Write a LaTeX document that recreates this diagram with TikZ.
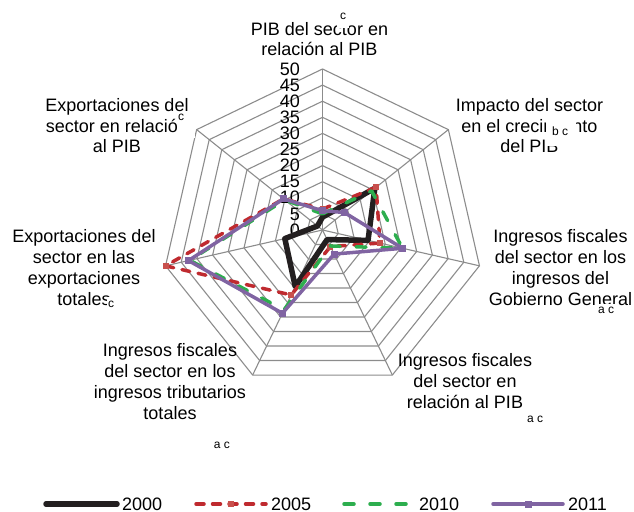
\documentclass[tikz,border=0pt]{standalone}
\usepackage{fontspec}
\setmainfont{Liberation Sans}
\definecolor{gridgray}{HTML}{8C8C8C}
\definecolor{blk}{HTML}{231F20}
\definecolor{redA}{HTML}{BF2A2F}
\definecolor{redM}{HTML}{C8504D}
\definecolor{grnA}{HTML}{2DAE4E}
\definecolor{purA}{HTML}{8064A2}
\newcommand{\lbfont}{\fontsize{18bp}{20.8bp}\selectfont}
\newcommand{\ftfont}{\fontsize{12bp}{14bp}\selectfont}
\def\cx{322.5}
\def\cy{230}
\def\uu{3.22}
\begin{document}
\begin{tikzpicture}[x=1bp,y=-1bp,
  grid/.style={draw=gridgray, line width=1.1bp},
  lab/.style={align=center, font=\lbfont, inner sep=0pt, anchor=base},
  tick/.style={font=\lbfont, inner sep=0pt, anchor=east},
  foot/.style={font=\ftfont, inner sep=0pt},
  s2000/.style={draw=blk, line width=5.5bp, line join=round},
  s2005/.style={draw=redA, line width=3.5bp, dash pattern=on 8bp off 8.5bp, line cap=round, line join=round},
  s2010/.style={draw=grnA, line width=3.5bp, dash pattern=on 10bp off 16bp, line cap=round, line join=round},
  s2011/.style={draw=purA, line width=3.5bp, line join=round},
  m2005/.style={rectangle, fill=redM, minimum size=6bp, inner sep=0pt},
  m2011/.style={rectangle, fill=purA, minimum size=7bp, inner sep=0pt}]
\useasboundingbox (0,0) rectangle (634,512);
\coordinate (C) at (\cx,\cy);
% grid rings
\foreach \rr in {5,10,...,50}{
  \draw[grid] ({\cx},{\cy-\rr*\uu}) \foreach \k in {1,...,6}{ -- ({\cx+sin(\k*360/7)*\rr*\uu},{\cy-cos(\k*360/7)*\rr*\uu}) } -- cycle;
}
% spokes
\foreach \k in {0,...,6}{
  \coordinate (V\k) at ({\cx+sin(\k*360/7)*50*\uu},{\cy-cos(\k*360/7)*50*\uu});
  \draw[grid] (C) -- (V\k);
}
% tick labels
\foreach \v in {0,5,...,50}{
  \node[tick] (t\v) at (300,{\cy-\v*\uu}) {\v};
}
% data
\foreach \k/\v in {0/4,1/20.8,2/14.5,3/3.3,4/19.5,5/12,6/2}{
  \coordinate (a\k) at ({\cx+sin(\k*360/7)*\v*\uu},{\cy-cos(\k*360/7)*\v*\uu});}
\foreach \k/\v in {0/6.5,1/21.3,2/18.3,3/5.7,4/22.4,5/50,6/15.5}{
  \coordinate (b\k) at ({\cx+sin(\k*360/7)*\v*\uu},{\cy-cos(\k*360/7)*\v*\uu});}
\foreach \k/\v in {0/5,1/19.5,2/25.5,3/5.5,4/27.5,5/42.3,6/15}{
  \coordinate (c\k) at ({\cx+sin(\k*360/7)*\v*\uu},{\cy-cos(\k*360/7)*\v*\uu});}
\foreach \k/\v in {0/6,1/8.7,2/25.5,3/8.3,4/28.7,5/42.7,6/15.5}{
  \coordinate (d\k) at ({\cx+sin(\k*360/7)*\v*\uu},{\cy-cos(\k*360/7)*\v*\uu});}
\draw[s2000] (a0)--(a1)--(a2)--(a3)--(a4)--(a5)--(a6)--cycle;
\draw[s2005] (b0)--(b1)--(b2)--(b3)--(b4)--(b5)--(b6)--cycle;
\foreach \k in {0,...,6}{\node[m2005] (mb\k) at (b\k) {};}
\draw[s2010] (c0)--(c1)--(c2)--(c3)--(c4)--(c5)--(c6)--cycle;
\draw[s2011] (d0)--(d1)--(d2)--(d3)--(d4)--(d5)--(d6)--cycle;
\foreach \k in {0,...,6}{\node[m2011] (md\k) at (d\k) {};}
% axis labels (anchor = baseline of last line)
\node[lab] (L0) at (319.5,56) {PIB del sector en\\relación al PIB};
\node[lab] (L1) at (529.5,153) {Impacto del sector\\en el crecimiento\\del PIB};
\node[lab] (L2) at (560.5,305) {Ingresos fiscales\\del sector en los\\ingresos del\\Gobierno General};
\node[lab] (L3) at (465,408) {Ingresos fiscales\\del sector en\\relación al PIB};
\node[lab] (L4) at (170,419) {Ingresos fiscales\\del sector en los\\ingresos tributarios\\totales};
\node[lab] (L5) at (84,305) {Exportaciones del\\sector en las\\exportaciones\\totales};
\node[lab] (L6) at (117,153) {Exportaciones del\\sector en relación\\al PIB};
% footnote marks with their white boxes
\fill[white] (337,4) rectangle (349,28);
\node[foot] (F0) at (343,16) {c};
\fill[white] (546,118) rectangle (576,146);
\node[foot] (F1) at (560,131) {b c};
\fill[white] (177,112) rectangle (195,138);
\node[foot] (F6) at (181,117) {c};
\fill[white] (107,297) rectangle (118,312);
\node[foot] (F5) at (111,304) {c};
\fill[white] (596,304) rectangle (616,316);
\node[foot] (F2) at (606,310) {a c};
\node[foot] (F3) at (535,419) {a c};
\node[foot] (F4) at (222,445) {a c};
% legend
\coordinate (g0a) at (46,504); \coordinate (g0b) at (117,504);
\coordinate (g1a) at (196,504); \coordinate (g1b) at (266,504);
\coordinate (g2a) at (344,504); \coordinate (g2b) at (414,504);
\coordinate (g3a) at (493,504); \coordinate (g3b) at (563,504);
\draw[s2000, line cap=round] (g0a) -- (g0b);
\draw[s2005] (g1a) -- (g1b);
\node[m2005] (gm1) at (231,504) {};
\draw[s2010] (g2a) -- (g2b);
\draw[s2011, line cap=round] (g3a) -- (g3b);
\node[m2011] (gm3) at (528,504) {};
\node[font=\lbfont, inner sep=0pt, anchor=west] (k0) at (122,504) {2000};
\node[font=\lbfont, inner sep=0pt, anchor=west] (k1) at (271,504) {2005};
\node[font=\lbfont, inner sep=0pt, anchor=west] (k2) at (419,504) {2010};
\node[font=\lbfont, inner sep=0pt, anchor=west] (k3) at (568,504) {2011};
\end{tikzpicture}
\end{document}
